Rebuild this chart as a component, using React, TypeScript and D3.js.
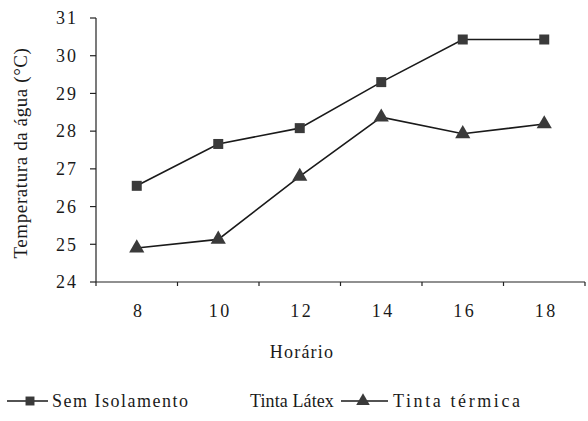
import React, { useEffect, useRef } from 'react'
import * as d3 from 'd3'

const horarios = ['8', '10', '12', '14', '16', '18']
const semIsolamento = [26.55, 27.66, 28.08, 29.3, 30.43, 30.43]
const tintaTermica = [24.9, 25.13, 26.8, 28.37, 27.93, 28.19]
const yTicks = [24, 25, 26, 27, 28, 29, 30, 31]
const legendLabels = ['Sem Isolamento', 'Tinta Látex', 'Tinta térmica']

const W = 588
const H = 421
const FONT = 'Liberation Serif'

const drawChart = (node: SVGSVGElement) => {
  const svg = d3.select(node)
  svg.selectAll('*').remove()

  const root = svg.append('g').attr('font-family', FONT).attr('fill', '#1a1a1a')

  const left = 96
  const right = 585
  const top = 18
  const bottom = 282

  const x = d3.scaleBand().domain(horarios).range([left, right])
  const y = d3.scaleLinear().domain([24, 31]).range([bottom, top])
  const cx = (d: string) => (x(d) as number) + x.bandwidth() / 2

  // axes
  const axes = root.append('g').attr('stroke', '#222').attr('stroke-width', 1.2)
  axes.append('line').attr('x1', left).attr('x2', left).attr('y1', top).attr('y2', bottom)
  axes.append('line').attr('x1', left).attr('x2', right).attr('y1', bottom).attr('y2', bottom)

  axes
    .selectAll('.ytick')
    .data(yTicks)
    .enter()
    .append('line')
    .attr('x1', left - 6)
    .attr('x2', left)
    .attr('y1', (d) => y(d))
    .attr('y2', (d) => y(d))

  const bounds = horarios.map((d) => x(d) as number).concat([right])
  axes
    .selectAll('.xtick')
    .data(bounds)
    .enter()
    .append('line')
    .attr('x1', (d) => d)
    .attr('x2', (d) => d)
    .attr('y1', bottom)
    .attr('y2', bottom + 4)

  root
    .append('g')
    .selectAll('text')
    .data(yTicks)
    .enter()
    .append('text')
    .text((d) => d)
    .attr('x', 78)
    .attr('y', (d) => y(d))
    .attr('dy', '0.35em')
    .attr('text-anchor', 'end')
    .attr('font-size', 18)
    .attr('letter-spacing', 2)

  root
    .append('g')
    .selectAll('text')
    .data(horarios)
    .enter()
    .append('text')
    .text((d) => d)
    .attr('x', (d) => cx(d) + 2)
    .attr('y', 317)
    .attr('text-anchor', 'middle')
    .attr('font-size', 18)
    .attr('letter-spacing', 2.5)

  root
    .append('text')
    .text('Horário')
    .attr('x', 302)
    .attr('y', 358)
    .attr('text-anchor', 'middle')
    .attr('font-size', 18)
    .attr('letter-spacing', 1.2)

  root
    .append('text')
    .text('Temperatura da água (°C)')
    .attr('transform', 'translate(27,153) rotate(-90)')
    .attr('text-anchor', 'middle')
    .attr('font-size', 19)
    .attr('letter-spacing', 0.6)

  // series
  const line = d3
    .line<number>()
    .x((d, i) => cx(horarios[i]))
    .y((d) => y(d))

  const series = [
    { values: semIsolamento, symbol: d3.symbolSquare },
    { values: tintaTermica, symbol: d3.symbolTriangle }
  ]

  series.forEach((s) => {
    root
      .append('path')
      .attr('d', line(s.values))
      .attr('fill', 'none')
      .attr('stroke', '#1a1a1a')
      .attr('stroke-width', 1.6)

    root
      .append('g')
      .selectAll('path')
      .data(s.values)
      .enter()
      .append('path')
      .attr('d', d3.symbol(s.symbol, 100)())
      .attr('transform', (d, i) => `translate(${cx(horarios[i])},${y(d)})`)
      .attr('fill', '#3a3a3a')
  })

  // legend
  const ly = 401
  const legend = root.append('g').attr('font-size', 18)
  const lg = legend.append('g').attr('stroke', '#1a1a1a').attr('stroke-width', 1.4)
  lg.append('line').attr('x1', 7).attr('x2', 48).attr('y1', ly).attr('y2', ly)
  lg.append('line').attr('x1', 341).attr('x2', 388).attr('y1', ly).attr('y2', ly)
  legend
    .append('path')
    .attr('d', d3.symbol(d3.symbolSquare, 80)())
    .attr('transform', `translate(30,${ly})`)
    .attr('fill', '#3a3a3a')
  legend
    .append('path')
    .attr('d', d3.symbol(d3.symbolTriangle, 80)())
    .attr('transform', `translate(363,${ly})`)
    .attr('fill', '#3a3a3a')

  const lx = [52, 250, 393]
  const spacing = [1.5, 0.1, 2.6]
  legend
    .selectAll('text')
    .data(legendLabels)
    .enter()
    .append('text')
    .text((d) => d)
    .attr('x', (d, i) => lx[i])
    .attr('y', ly)
    .attr('dy', '0.35em')
    .attr('letter-spacing', (d, i) => spacing[i])
}

const App = () => {
  const ref = useRef<SVGSVGElement>(null)

  useEffect(() => {
    if (ref.current) drawChart(ref.current)
  }, [])

  return (
    <svg
      ref={ref}
      width={W}
      height={H}
      style={{ position: 'absolute', left: 0, top: 0, background: '#fff' }}
    />
  )
}

export default App
